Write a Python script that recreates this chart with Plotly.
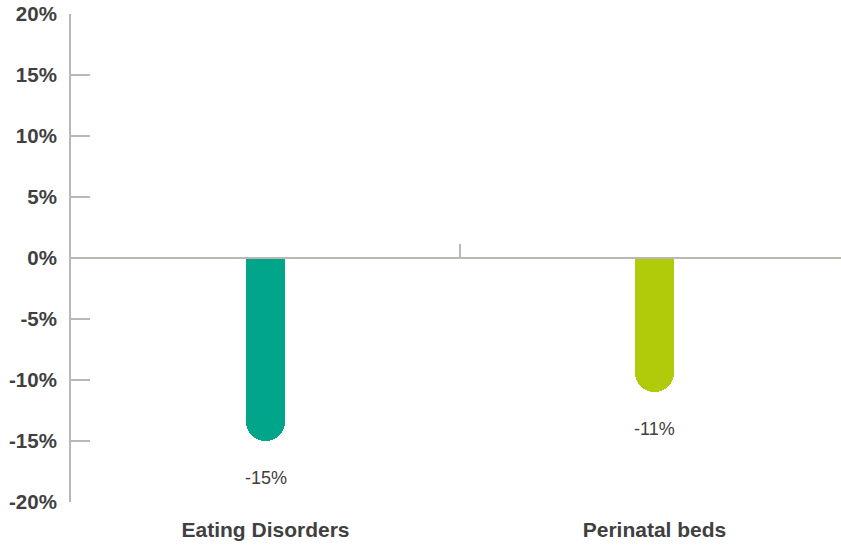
import plotly.graph_objects as go

categories = ["Eating Disorders", "Perinatal beds"]
values = [-15, -11]
value_labels = ["-15%", "-11%"]
bar_colors = ["#00A58A", "#B1CA0A"]
ytick_vals = [-20, -15, -10, -5, 0, 5, 10, 15, 20]
ytick_labels = ["-20%", "-15%", "-10%", "-5%", "0%", "5%", "10%", "15%", "20%"]

x_pos = list(range(len(categories)))
axis_gray = "#bcb7b4"
text_gray = "#404040"
FONT = "Liberation Sans, Arial"

fig = go.Figure()
fig.add_trace(go.Bar(
    x=x_pos, y=values, marker=dict(color=bar_colors, cornerradius="50%", line=dict(width=0)),
    width=0.098, showlegend=False, hoverinfo="skip",
))
fig.add_trace(go.Scatter(x=[0, 1], y=[0, 0], xaxis="x2", mode="markers",
                         marker=dict(opacity=0), showlegend=False, hoverinfo="skip"))

for xp, v, lab in zip(x_pos, values, value_labels):
    fig.add_annotation(x=xp, y=v, text=lab, showarrow=False, yshift=-37,
                       font=dict(family=FONT, size=18, color=text_gray))

xrange = [-0.5, -0.5 + (841 - 71) / 389]
fig.update_layout(
    width=841, height=545,
    margin=dict(l=71, r=0, t=14, b=43, pad=0),
    plot_bgcolor="white", paper_bgcolor="white",
    xaxis=dict(range=xrange, tickvals=x_pos, ticktext=categories, showline=False,
               showgrid=False, zeroline=False, ticks="", automargin=False,
               ticklabelstandoff=13,
               tickfont=dict(family=FONT, size=21, color=text_gray, weight="bold")),
    xaxis2=dict(range=xrange, overlaying="x", anchor="free", position=0.5, side="top",
                showline=True, linecolor=axis_gray, linewidth=2, tickvals=[0.5], ticktext=[""],
                ticks="outside", ticklen=13, tickwidth=2, tickcolor=axis_gray,
                showgrid=False, zeroline=False, automargin=False),
    yaxis=dict(range=[-20, 20], tickvals=ytick_vals, ticktext=ytick_labels,
               showline=True, linecolor=axis_gray, linewidth=2, ticks="inside", ticklen=19,
               tickwidth=2, tickcolor=axis_gray, showgrid=False, zeroline=False,
               ticklabelstandoff=8, automargin=False,
               tickfont=dict(family=FONT, size=20.5, color=text_gray, weight="bold")),
    bargap=0,
)
fig.write_html("out.html", config={"displayModeBar": False},
               post_script="document.body.style.margin='0';")
